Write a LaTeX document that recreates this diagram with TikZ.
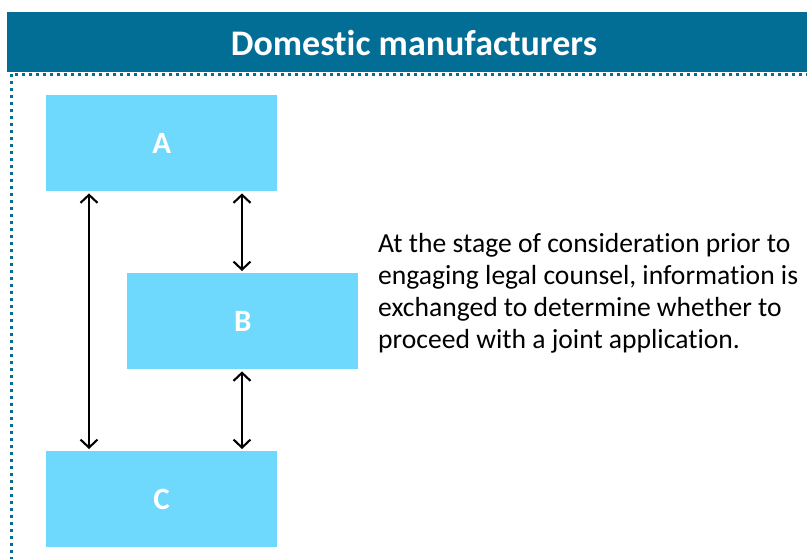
\documentclass[tikz,border=0pt]{standalone}
\usepackage{fontspec}
\setmainfont[Ligatures=NoCommon]{Carlito}
\usetikzlibrary{arrows.meta}
\definecolor{titleblue}{HTML}{036E95}
\definecolor{boxblue}{HTML}{6FD8FD}
\begin{document}
\begin{tikzpicture}[x=1pt,y=-1pt,
  box/.style={fill=boxblue,draw=none,minimum width=231pt,minimum height=96pt,inner sep=0pt,
    font=\fontsize{31}{36}\selectfont\bfseries,text=white,anchor=north west},
  link/.style={line width=2.1pt,{Straight Barb[length=8pt,width=17pt,line width=2.1pt]}-{Straight Barb[length=8pt,width=17pt,line width=2.1pt]}}]
\useasboundingbox (0,0) rectangle (807,558);
\fill[titleblue] (7,12) rectangle (807,72);
\node[font=\fontsize{36}{40}\selectfont\bfseries,text=white] (title) at (414,43) {Domestic manufacturers};
\draw[titleblue,line width=3pt,dash pattern=on 3pt off 4pt] (11,560) -- (11,74) -- (807,74);
\node[box] (A) at (46,95) {A};
\node[box] (B) at (127,273) {B};
\node[box] (C) at (46,451) {C};
\coordinate (a1) at ([yshift=-2pt]A.south west -| 89,0);
\coordinate (c1) at ([yshift=2pt]C.north west -| 89,0);
\draw[link] (a1) -- (c1);
\draw[link] ([yshift=-2pt]A.south east -| 242,0) -- ([yshift=2pt]B.north west -| 242,0);
\draw[link] ([yshift=-2pt]B.south west -| 242,0) -- ([yshift=2pt]C.north east -| 242,0);
\node[anchor=north west,align=left,inner sep=0pt,font=\fontsize{27.6}{32.2}\selectfont] (txt) at (378,233)
 {At the stage of consideration prior to\\engaging legal counsel, information is\\exchanged to determine whether to\\proceed with a joint application.};
\end{tikzpicture}
\end{document}
